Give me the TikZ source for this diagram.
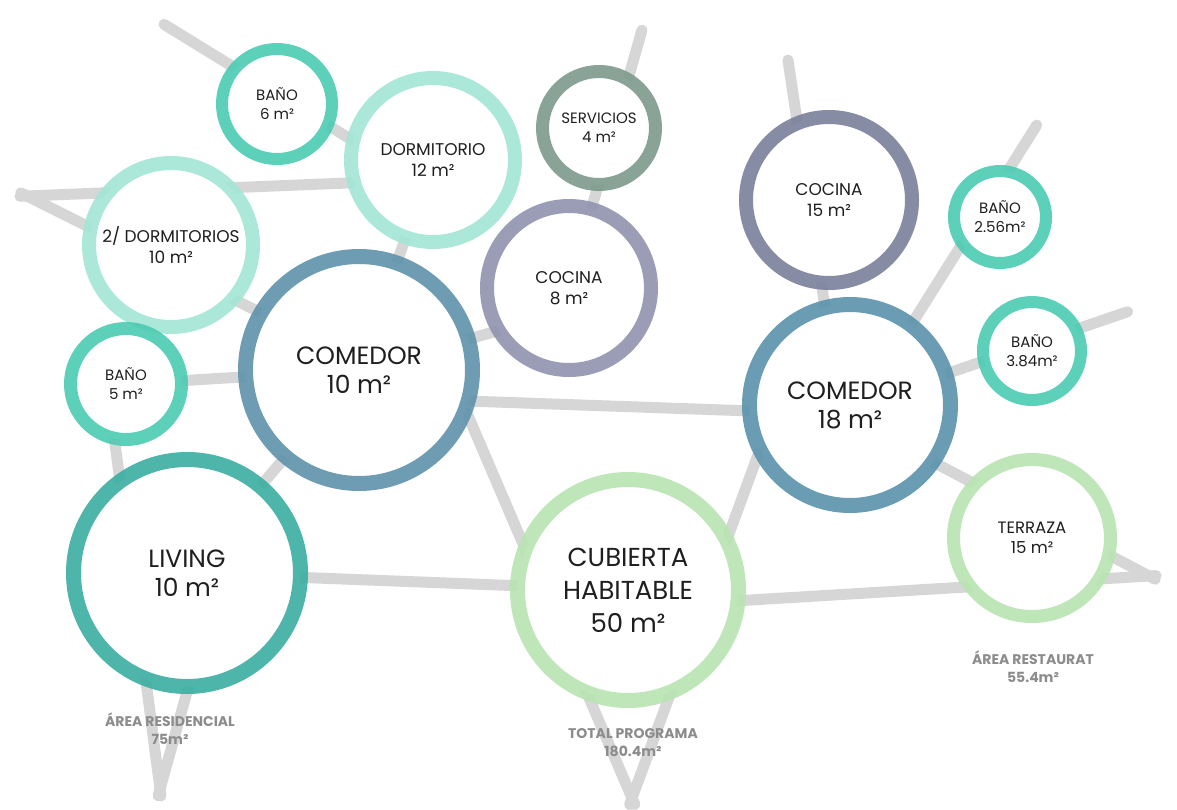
\documentclass[tikz,border=0pt]{standalone}
\usepackage{fontspec}
\setmainfont{Poppins}
\usetikzlibrary{backgrounds}

\definecolor{linkgray}{HTML}{D6D6D6}
\definecolor{notegray}{HTML}{8C8C8C}
\definecolor{banocol}{HTML}{4CCBB3}
\definecolor{dormcol}{HTML}{A3E6D6}
\definecolor{servcol}{HTML}{7E9A8C}
\definecolor{cocacol}{HTML}{9093AE}
\definecolor{cocbcol}{HTML}{7B809C}
\definecolor{comacol}{HTML}{5F93AB}
\definecolor{combcol}{HTML}{5A92AB}
\definecolor{livcol}{HTML}{3AAEA0}
\definecolor{cubcol}{HTML}{B8E4B2}

\begin{document}
\begin{tikzpicture}[x=1pt,y=-1pt,
  room/.style={circle,fill=white,draw=#1,draw opacity=.9,align=center,inner sep=0pt,text=black!88},
  link/.style={draw=linkgray,line width=11pt,line cap=round,shorten <=-7pt,shorten >=-7pt},
  smalltxt/.style={font=\fontsize{15}{19}\selectfont},
  midtxt/.style={font=\fontsize{17}{21}\selectfont},
  bigtxt/.style={font=\fontsize{25}{29}\selectfont},
  note/.style={align=center,text=notegray,font=\fontsize{14}{18}\selectfont\bfseries}]
\useasboundingbox (0,0) rectangle (1177,809);

% rooms
\node[room=banocol,line width=12pt,minimum size=110pt,smalltxt] (bano6) at (277,104) {BAÑO\\6 m²};
\node[room=dormcol,line width=14pt,minimum size=164pt,midtxt] (dorm) at (433,160) {DORMITORIO\\12 m²};
\node[room=servcol,line width=13pt,minimum size=113pt,smalltxt] (serv) at (599,128) {SERVICIOS\\4 m²};
\node[room=dormcol,line width=14pt,minimum size=164pt,midtxt] (dorm2) at (171,245) {2/ DORMITORIOS\\10 m²};
\node[room=cocacol,line width=14pt,minimum size=164pt,midtxt] (coc8) at (569,288) {COCINA\\8 m²};
\node[room=comacol,line width=15pt,minimum size=227pt,bigtxt] (com10) at (359,370) {COMEDOR\\10 m²};
\node[room=banocol,line width=13pt,minimum size=111pt,smalltxt] (bano5) at (126,384) {BAÑO\\5 m²};
\node[room=livcol,line width=15pt,minimum size=227pt,bigtxt] (living) at (187,573) {LIVING\\10 m²};
\node[room=cubcol,line width=15pt,minimum size=221pt,font=\fontsize{26}{33}\selectfont] (cub) at (628,590) {CUBIERTA\\HABITABLE\\50 m²};
\node[room=combcol,line width=15pt,minimum size=201pt,bigtxt] (com18) at (850,405) {COMEDOR\\18 m²};
\node[room=cocbcol,line width=14pt,minimum size=166pt,midtxt] (coc15) at (829,200) {COCINA\\15 m²};
\node[room=banocol,line width=12pt,minimum size=92pt,smalltxt] (bano256) at (1000,217) {BAÑO\\2.56m²};
\node[room=banocol,line width=12pt,minimum size=98pt,smalltxt] (bano384) at (1032,351) {BAÑO\\3.84m²};
\node[room=cubcol,line width=13pt,minimum size=157pt,font=\fontsize{16.5}{20}\selectfont] (terraza) at (1032,538) {TERRAZA\\15 m²};

% area totals
\node[note] (resnote) at (170,729) {ÁREA RESIDENCIAL\\75m²};
\node[note] (totnote) at (633,743) {TOTAL PROGRAMA\\180.4m²};
\node[note] (restnote) at (1033,667) {ÁREA RESTAURAT\\55.4m²};

% loose ends
\coordinate (f1) at (170,28);
\coordinate (lv) at (27,196);
\coordinate (fserv) at (640,37);
\coordinate (fcoc) at (789,67);
\coordinate (fb256) at (1033,131);
\coordinate (fb384) at (1121,314);
\coordinate (resv) at (160,789);
\coordinate (totv) at (632,798);
\coordinate (restv) at (1149,576);

\begin{scope}[on background layer]
\fill[white] (0,0) rectangle (1177,809);
\draw[link] (f1) -- (dorm.165);
\draw[link] (lv) -- (dorm.195);
\draw[link] (lv) -- (com10.150);
\draw[link] (dorm.center) -- (com10.center);
\draw[link] (bano5.center) -- (com10.center);
\draw[link] (fserv) -- (coc8.center);
\draw[link] (coc8.210) -- (com10.center);
\draw[link] (com10.-15) -- (com18.183);
\draw[link] (totv) -- (com10.-24);
\draw[link] (totv) -- (com18.210);
\draw[link] (living.center) -- (cub.center);
\draw[link] (living.center) -- (com10.center);
\draw[link] (resv) -- (bano5.260);
\draw[link] (resv) -- ([xshift=33pt]living.center);
\draw[link] (restv) -- (com18.-34);
\draw[link] (restv) -- (cub.-5);
\draw[link] (fb384) -- (com18.18);
\draw[link] (fb256) -- (com18.53);
\draw[link] (fcoc) -- (com18.104);
\end{scope}

\end{tikzpicture}
\end{document}
